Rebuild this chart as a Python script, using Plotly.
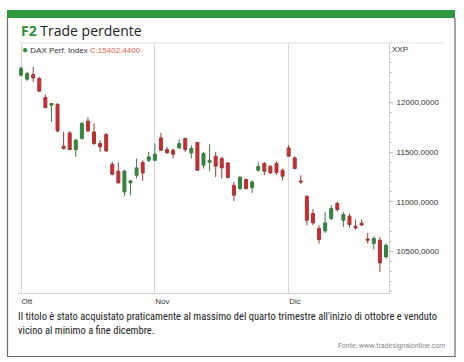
import pandas as pd
import plotly.graph_objects as go

# ---- data (DAX Perf. Index, daily, Q4) ----
dates = [d.strftime("%Y-%m-%d") for d in pd.bdate_range("2018-10-01", "2018-12-28")
         if d.strftime("%Y-%m-%d") not in ("2018-10-03", "2018-12-24", "2018-12-25", "2018-12-26")]

opens = [12275, 12235, 12282, 12242, 12050, 11973, 11983, 11560, 11694, 11526,
         11637, 11812, 11704, 11587, 11677, 11378, 11307, 11099, 11190, 11267,
         11395, 11418, 11418, 11643, 11526, 11519, 11542, 11637, 11492, 11597,
         11368, 11398, 11459, 11435, 11391, 11166, 11133, 11224, 11143, 11318,
         11385, 11358, 11385, 11318, 11542, 11442, 11210, 11055, 10881, 10730,
         10706, 10831, 10982, 10813, 10854, 10753, 10783, 10625, 10579, 10612,
         10444]
highs = [12366, 12308, 12359, 12258, 12081, 11996, 11990, 11704, 11714, 11637,
         11804, 11849, 11788, 11620, 11694, 11401, 11395, 11318, 11217, 11435,
         11418, 11502, 11587, 11694, 11553, 11536, 11630, 11647, 11570, 11603,
         11502, 11577, 11502, 11452, 11401, 11200, 11257, 11234, 11217, 11395,
         11401, 11368, 11408, 11335, 11570, 11459, 11267, 11066, 10924, 10763,
         10895, 10965, 11000, 10897, 10881, 10821, 10821, 10686, 10652, 10645,
         10579]
lows = [12265, 12218, 12208, 12107, 11940, 11804, 11700, 11526, 11519, 11452,
        11627, 11704, 11570, 11502, 11502, 11267, 11183, 11055, 11066, 11234,
        11210, 11401, 11408, 11512, 11486, 11435, 11536, 11502, 11435, 11311,
        11335, 11311, 11250, 11234, 11234, 11008, 11116, 11122, 11089, 11300,
        11267, 11284, 11271, 11217, 11452, 11328, 11177, 10763, 10763, 10579,
        10686, 10813, 10900, 10746, 10740, 10720, 10753, 10579, 10518, 10292,
        10427]
closes = [12343, 12292, 12248, 12114, 11950, 11990, 11714, 11536, 11526, 11620,
          11788, 11714, 11587, 11553, 11512, 11277, 11190, 11310, 11210, 11341,
          11290, 11452, 11479, 11519, 11492, 11479, 11587, 11526, 11536, 11318,
          11486, 11418, 11358, 11341, 11244, 11066, 11247, 11133, 11200, 11355,
          11307, 11290, 11294, 11257, 11459, 11335, 11200, 10813, 10786, 10619,
          10786, 10932, 10921, 10871, 10770, 10736, 10766, 10612, 10629, 10383,
          10561]

month_ticks = ["2018-10-01", "2018-11-01", "2018-12-03"]
month_labels = ["Ott", "Nov", "Dic"]
y_ticks = [10500, 11000, 11500, 12000]
y_labels = ["10500,0000", "11000,0000", "11500,0000", "12000,0000"]

title_code = "F2"
title_text = "Trade perdente"
legend_name = "DAX Perf. Index"
legend_value = "C:15402,4400"
axis_unit = "XXP"
caption = ("Il titolo è stato acquistato praticamente al massimo del quarto trimestre all'inizio di ottobre e venduto<br>"
           "vicino al minimo a fine dicembre.")
source = "Fonte: www.tradesignalonline.com"

# ---- layout geometry (pixels) ----
W, H = 464, 362
L, R, T, B = 18, 389, 43, 293
PW, PH = R - L, B - T


def px(x):
    return (x - L) / PW


def py(y):
    return (B - y) / PH


GREEN = "#2b8c3c"
RED = "#d9262c"

fig = go.Figure(go.Candlestick(
    x=dates, open=opens, high=highs, low=lows, close=closes,
    increasing=dict(line=dict(color="#3d7a45", width=1), fillcolor=GREEN),
    decreasing=dict(line=dict(color="#9c3a3a", width=1), fillcolor=RED),
    whiskerwidth=0, showlegend=False, hoverinfo="skip",
))

fig.update_layout(
    width=W, height=H,
    margin=dict(l=L, r=W - R, t=T, b=H - B, pad=0),
    paper_bgcolor="white", plot_bgcolor="white",
    font=dict(family="Liberation Sans, Arial", size=8, color="#333"),
    xaxis=dict(
        type="category", categoryorder="array", categoryarray=dates,
        range=[-0.5, len(dates) - 0.5],
        rangeslider=dict(visible=False),
        tickvals=month_ticks, ticktext=month_labels,
        showgrid=True, gridcolor="#d9d9d9", gridwidth=1,
        showline=True, linecolor="#d0d0d0", linewidth=1,
        ticks="", ticklabelposition="outside right",
        tickfont=dict(size=8, color="#333", family="Liberation Sans, Arial"),
        zeroline=False, fixedrange=True,
    ),
    yaxis=dict(
        side="right", range=[10080, 12600],
        tickvals=y_ticks, ticktext=y_labels,
        showgrid=False, zeroline=False,
        showline=True, linecolor="#d0d0d0", linewidth=1,
        ticks="outside", ticklen=3, tickcolor="#bbb",
        minor=dict(dtick=100, ticks="outside", ticklen=2, tickcolor="#ccc", showgrid=False),
        tickfont=dict(size=8, color="#333"),
        ticklabelstandoff=2, fixedrange=True,
    ),
)

shapes = [
    # green header bar
    dict(type="rect", xref="paper", yref="paper", x0=px(7), x1=px(455), y0=py(18), y1=py(10),
         fillcolor="#2f9a40", line=dict(width=0), layer="below"),
    # outer frame
    dict(type="path", xref="paper", yref="paper",
         path=f"M {px(7.5)},{py(18)} L {px(7.5)},{py(356.5)} L {px(455)},{py(356.5)} L {px(455)},{py(18)}",
         line=dict(color="#6a6a6a", width=1.2)),
    # header line of chart panel
    dict(type="line", xref="paper", yref="paper", x0=px(20), x1=px(443), y0=py(43), y1=py(43),
         line=dict(color="#e2e2e2", width=1)),
]
fig.update_layout(shapes=shapes)

ann = [
    dict(x=px(19), y=py(31), xref="paper", yref="paper", xanchor="left", yanchor="middle",
         text=f"<b><span style='color:{GREEN}'>{title_code}</span></b> {title_text}",
         showarrow=False, font=dict(size=14, color="#222", family="Open Sans, Liberation Sans")),
    dict(x=px(20), y=py(49.5), xref="paper", yref="paper", xanchor="left", yanchor="middle",
         text=f"<span style='color:{GREEN};font-size:10px'>●</span> {legend_name} <span style='color:#e8603c'>{legend_value}</span>",
         showarrow=False, font=dict(size=8, color="#333", family="Liberation Sans, Arial")),
    dict(x=px(390), y=py(49.5), xref="paper", yref="paper", xanchor="left", yanchor="middle",
         text=axis_unit, showarrow=False, font=dict(size=8, color="#333")),
    dict(x=px(16), y=py(323), xref="paper", yref="paper", xanchor="left", yanchor="middle",
         align="left", text=caption, showarrow=False,
         font=dict(size=10.5, color="#222", family="Liberation Sans Narrow, Roboto Condensed, Roboto")),
    dict(x=px(447), y=py(346), xref="paper", yref="paper", xanchor="right", yanchor="middle",
         text=source, showarrow=False,
         font=dict(size=7, color="#888", family="Liberation Sans Narrow, Roboto")),
]
fig.update_layout(annotations=ann)

fig.write_html("out.html", config={"displayModeBar": False, "staticPlot": True},
               post_script="document.body.style.margin='0px';")
